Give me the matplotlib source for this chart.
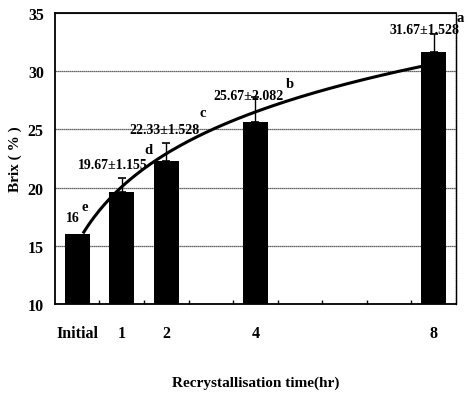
import numpy as np
import matplotlib
matplotlib.use("Agg")
import matplotlib.pyplot as plt

categories = ["Initial", "1", "2", "4", "8"]
positions = [0, 1, 2, 4, 8]
means = [16.0, 19.67, 22.33, 25.67, 31.67]
sds = [0.0, 1.155, 1.528, 2.082, 1.528]
value_labels = ["16", "19.67±1.155", "22.33±1.528", "25.67±2.082", "31.67±1.528"]
letters = ["e", "d", "c", "b", "a"]

fam = ["Liberation Serif", "DejaVu Serif"]
plt.rcParams['font.family'] = fam
plt.rcParams['font.weight'] = 'bold'

fig = plt.figure(figsize=(4.69, 4.02), dpi=100)
ax = fig.add_axes([0.117, 0.241, 0.855, 0.724])

ax.bar(positions, means, width=0.56, color="black", bottom=0, zorder=3)
ax.errorbar(positions[1:], means[1:], yerr=[np.zeros(4), sds[1:]], fmt="none",
            ecolor="black", elinewidth=1.0, capsize=3, capthick=1.2, zorder=4)

# logarithmic trend line (fit on time index 1..9)
xi = np.array(positions) + 1.0
a, b = np.polyfit(np.log(xi), np.array(means), 1)
xs = np.linspace(0.15, 7.8, 200)
ax.plot(xs, a * np.log(xs + 1) + b, color="black", lw=2.2, zorder=5)

# value labels
lab_pos = [(-0.09, 16.9), (0.79, 21.4), (1.96, 24.4), (3.85, 27.4), (7.8, 33.0)]
let_pos = [(0.17, 17.8), (1.6, 22.7), (2.83, 25.9), (4.77, 28.4), (8.6, 34.1)]
for (lx, ly), t in zip(lab_pos, value_labels):
    ax.text(lx, ly, t, ha="center", va="bottom", fontsize=10, fontweight="bold",
            zorder=6)
for (lx, ly), t in zip(let_pos, letters):
    ax.text(lx, ly, t, ha="center", va="bottom", fontsize=10.5, fontweight="bold",
            zorder=6, clip_on=False)

ax.set_xlim(-0.5, 8.5)
ax.set_ylim(10, 35)
ax.set_yticks([10, 15, 20, 25, 30, 35])
ax.set_yticklabels(["10", "15", "20", "25", "30", "35"], fontsize=11.5, fontweight="bold")
ax.set_xticks(positions)
ax.set_xticklabels(categories, fontsize=11.5, fontweight="bold")
ax.set_xticks(np.arange(0.5, 8.5, 1.0), minor=True)
ax.tick_params(axis="x", which="major", length=0, pad=15)
ax.tick_params(axis="x", which="minor", direction="in", length=3, width=1)
ax.tick_params(axis="y", length=0, pad=8)

ax.yaxis.grid(True, color="#333333", lw=0.9, linestyle=(0, (1, 0.6)), zorder=0)
ax.set_axisbelow(True)
for s in ["left", "bottom", "top"]:
    ax.spines[s].set_linewidth(1.3)
ax.spines["right"].set_linewidth(1.0)
ax.spines["right"].set_linestyle((0, (1, 0.6)))

ax.set_ylabel("Brix ( % )", fontsize=11, fontweight="bold", labelpad=4)
fig.text(0.545, 0.047, "Recrystallisation time(hr)", ha="center", va="center",
         fontsize=11, fontweight="bold")

fig.savefig("out.png", dpi=100)
